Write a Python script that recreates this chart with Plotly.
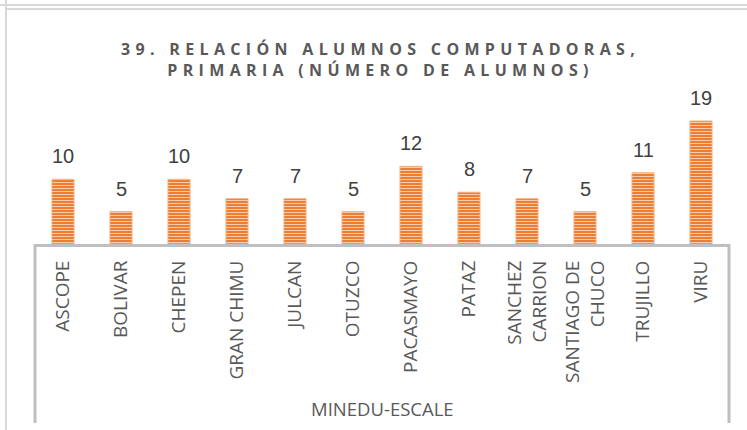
import plotly.graph_objects as go

# Provinces of La Libertad and pupils per computer (primary level)
provincias = ["ASCOPE", "BOLIVAR", "CHEPEN", "GRAN CHIMU", "JULCAN", "OTUZCO",
              "PACASMAYO", "PATAZ", "SANCHEZ<br>CARRION", "SANTIAGO DE<br>CHUCO",
              "TRUJILLO", "VIRU"]
alumnos = [10, 5, 10, 7, 7, 5, 12, 8, 7, 5, 11, 19]
fuente = "MINEDU-ESCALE"
titulo_l1 = "39. RELACIÓN ALUMNOS COMPUTADORAS,"
titulo_l2 = "PRIMARIA (NÚMERO DE ALUMNOS)"

W, H = 747, 430
ML, MR, MT, MB = 34, 17, 115, 186
PW, PH = W - ML - MR, H - MT - MB
YMAX = PH / (123 / 19)

GRAY_TXT = "#595959"
AXIS_GRAY = "#bfbfbf"
FRAME_GRAY = "#d9d9d9"


def px_x(x):
    return (x - ML) / PW


def px_y(y):
    return (H - MB - y) / PH


def spaced(s):
    # widen the tracking of the title letters
    gap = "\u2004"
    return (gap + "\u00a0" + gap).join(gap.join(w) for w in s.split(" "))


fig = go.Figure()
fig.add_trace(go.Bar(
    x=provincias, y=alumnos, width=0.38,
    marker=dict(
        color="#ED7D31",
        line=dict(color="#F4B183", width=1),
        pattern=dict(shape="-", fillmode="replace", bgcolor="#ED7D31",
                     fgcolor="#F8CBAD", size=3, solidity=0.35),
    ),
    hoverinfo="x+y",
))

# value labels above each bar
for p, v in zip(provincias, alumnos):
    fig.add_annotation(x=p, y=v, text=str(v), showarrow=False, yanchor="bottom",
                       yshift=10, font=dict(family="Liberation Sans", size=20,
                                            color="#404040"))

fig.add_annotation(xref="paper", yref="paper", x=px_x(378), y=px_y(60),
                   text=spaced(titulo_l1) + "<br>" + spaced(titulo_l2),
                   showarrow=False, xanchor="center", yanchor="middle",
                   font=dict(family="Open Sans", size=16, color=GRAY_TXT,
                             weight="bold"))

fig.add_annotation(xref="paper", yref="paper", x=px_x(382), y=px_y(408),
                   text=fuente, showarrow=False, xanchor="center",
                   yanchor="middle",
                   font=dict(family="Open Sans", size=18.5, color=GRAY_TXT))

shapes = [
    # category box sides
    dict(type="line", xref="paper", yref="paper", x0=px_x(35), x1=px_x(35),
         y0=px_y(244), y1=px_y(423), line=dict(color=AXIS_GRAY, width=3)),
    dict(type="line", xref="paper", yref="paper", x0=px_x(729), x1=px_x(729),
         y0=px_y(244), y1=px_y(423), line=dict(color=AXIS_GRAY, width=3)),
    # outer frame
    dict(type="line", xref="paper", yref="paper", x0=px_x(0), x1=px_x(W),
         y0=px_y(5), y1=px_y(5), line=dict(color=FRAME_GRAY, width=2)),
    dict(type="line", xref="paper", yref="paper", x0=px_x(6), x1=px_x(W),
         y0=px_y(9), y1=px_y(9), line=dict(color=FRAME_GRAY, width=2)),
    dict(type="line", xref="paper", yref="paper", x0=px_x(6), x1=px_x(6),
         y0=px_y(0), y1=px_y(H), line=dict(color=FRAME_GRAY, width=2)),
]

fig.update_layout(
    width=W, height=H,
    margin=dict(l=ML, r=MR, t=MT, b=MB, pad=0),
    paper_bgcolor="white", plot_bgcolor="white",
    showlegend=False,
    shapes=shapes,
    xaxis=dict(tickangle=-90, showline=True, linecolor=AXIS_GRAY, linewidth=3,
               ticks="", showgrid=False, zeroline=False, fixedrange=True,
               ticklabelstandoff=6,
               tickfont=dict(family="Open Sans", size=19, color=GRAY_TXT),
               automargin=False),
    yaxis=dict(range=[0, YMAX], visible=False, fixedrange=True),
)

fig.write_html("out.html")
